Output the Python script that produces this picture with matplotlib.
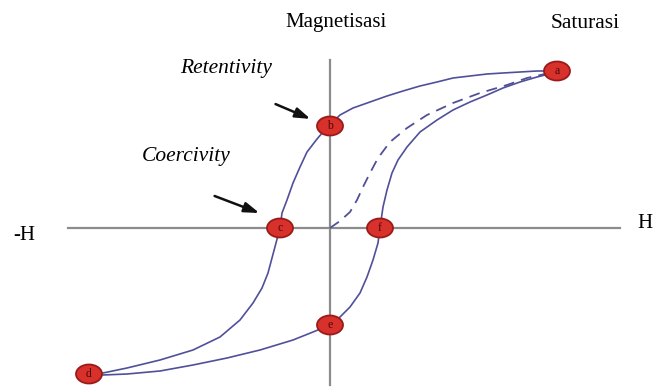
import numpy as np
import matplotlib.pyplot as plt
from matplotlib.patches import Ellipse

# hysteresis loop, H and M in drawing units (origin at the axes crossing)
# descending branch a -> b -> c -> d
upper_H = [227, 207, 190, 173, 157, 140, 123, 107, 90, 73, 57, 40, 23, 10, 0, -7, -13, -23, -30,
           -37, -43, -48, -50, -54, -58, -62, -68, -77, -90, -110, -137, -170, -203, -227, -241]
upper_M = [157, 157, 156, 155, 154, 152, 150, 146, 142, 137, 132, 126, 120, 113, 103, 96, 89, 76, 61,
           45, 28, 15, 0, -15, -30, -45, -60, -75, -92, -109, -122, -132, -140, -145, -146]

# ascending branch d -> e -> f -> a
lower_H = [-241, -227, -203, -170, -137, -103, -70, -37, -17, 0, 10, 20, 30, 37, 43, 48, 50,
           53, 57, 62, 68, 77, 90, 107, 123, 140, 157, 173, 190, 207, 227]
lower_M = [-146, -147, -146, -143, -137, -130, -122, -112, -104, -97, -89, -79, -65, -49, -32, -15, 0,
           21, 38, 55, 68, 81, 96, 108, 118, 126, 133, 140, 146, 151, 156]

# initial magnetisation curve
init_H = [0, 10, 20, 27, 33, 40, 48, 60, 77, 97, 123, 150, 177, 197, 215]
init_M = [0, 7, 16, 28, 41, 55, 70, 86, 100, 113, 125, 135, 143, 150, 154]

pt_names = ['a', 'b', 'c', 'd', 'e', 'f']
pt_H = [227, 0, -50, -241, 0, 50]
pt_M = [157, 102, 0, -146, -97, 0]

line_col = '#50509a'
serif = 'Liberation Serif'

fig = plt.figure(figsize=(6.54, 3.87), dpi=100)
ax = fig.add_axes([0, 0, 1, 1])
ax.set_xlim(-330, 324)
ax.set_ylim(-159, 228)
ax.axis('off')

# axes lines
ax.plot([-262, 290], [0, 0], color='#8c8c8c', lw=1.6, zorder=1)
ax.plot([0, 0], [168, -157], color='#8c8c8c', lw=1.6, zorder=1)

ax.plot(upper_H, upper_M, color=line_col, lw=1.2, zorder=2)
ax.plot(lower_H, lower_M, color=line_col, lw=1.2, zorder=2)
ax.plot(init_H, init_M, color=line_col, lw=1.3, ls=(0, (6, 4)), zorder=2)

for name, h, m in zip(pt_names, pt_H, pt_M):
  ax.add_patch(Ellipse((h, m), 26, 19, facecolor='#d8302a', edgecolor='#9a1a1a', lw=1.3, zorder=3))
  ax.text(h, m, name, ha='center', va='center', fontsize=8.5, color='#4a0a0a', family=serif, zorder=4)

# labels
ax.text(6, 206, 'Magnetisasi', ha='center', va='center', fontsize=15, family=serif)
ax.text(255, 204, 'Saturasi', ha='center', va='center', fontsize=15.5, family=serif)
ax.text(-104, 160, 'Retentivity', ha='center', va='center', fontsize=15.5, style='italic', family=serif)
ax.text(-144, 71, 'Coercivity', ha='center', va='center', fontsize=15.5, style='italic', family=serif)
ax.text(-306, -7, '-H', ha='center', va='center', fontsize=15, family=serif)
ax.text(323, 5, 'H', ha='right', va='center', fontsize=15, family=serif)

arrow = dict(arrowstyle='-|>,head_length=0.9,head_width=0.3', color='#111111', lw=1.8)
ax.annotate('', xy=(-17, 108), xytext=(-57, 125), arrowprops=arrow)
ax.annotate('', xy=(-68, 14), xytext=(-118, 33), arrowprops=arrow)

fig.savefig('out.png', dpi=100)
